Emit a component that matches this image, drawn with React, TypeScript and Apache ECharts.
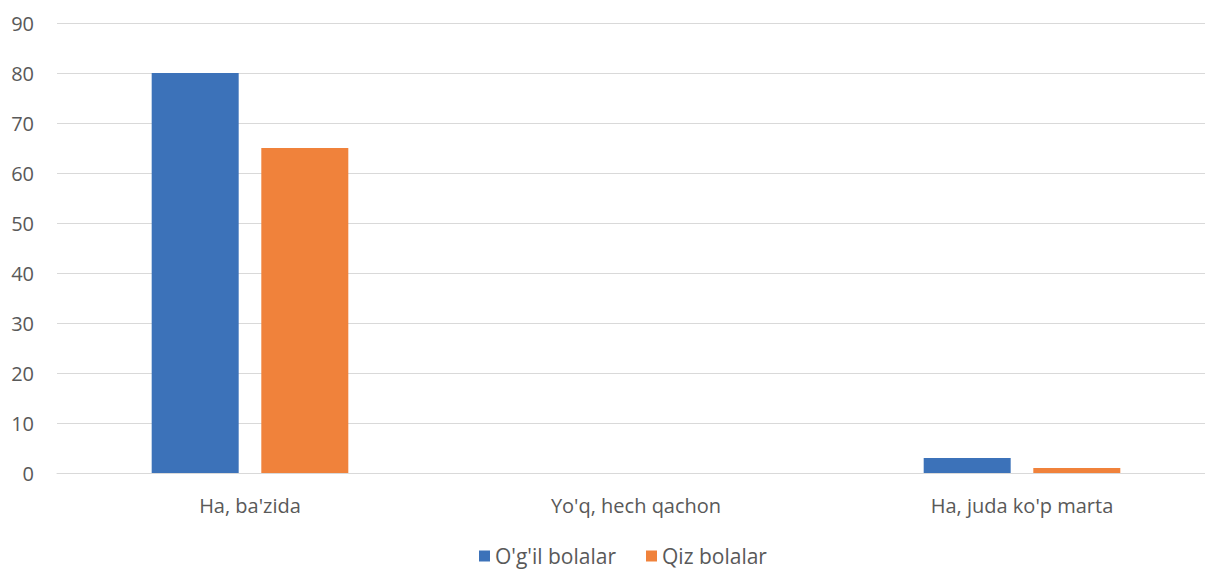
import React, { useEffect, useRef } from "react";
import * as echarts from "echarts";

const categories = ["Ha, ba'zida", "Yo'q, hech qachon", "Ha, juda ko'p marta"];
const seriesNames = ["O'g'il bolalar", "Qiz bolalar"];
const boysValues = [80, 0, 3];
const girlsValues = [65, 0, 1];
const yMin = 0;
const yMax = 90;
const yInterval = 10;

export default function App() {
  const ref = useRef<HTMLDivElement>(null);
  useEffect(() => {
    if (!ref.current) return;
    const chart = echarts.init(ref.current, null, { renderer: "svg" });
    const font = "Open Sans";
    chart.setOption({
      animation: false,
      backgroundColor: "#ffffff",
      textStyle: { fontFamily: font },
      grid: { left: 57, top: 23, width: 1158, height: 450, containLabel: false },
      legend: {
        top: 544,
        left: 479,
        padding: 0,
        itemWidth: 11,
        itemHeight: 11,
        itemGap: 30,
        itemTextGap: 7,
        icon: "rect",
        textStyle: { fontSize: 21, lineHeight: 24, color: "#595959", fontFamily: font },
        data: seriesNames,
      },
      xAxis: {
        type: "category",
        data: categories,
        axisLine: { lineStyle: { color: "#d9d9d9", width: 1 } },
        axisTick: { show: false },
        axisLabel: { fontSize: 20, color: "#595959", margin: 22, fontFamily: font },
      },
      yAxis: {
        type: "value",
        min: yMin,
        max: yMax,
        interval: yInterval,
        axisLine: { show: false },
        axisTick: { show: false },
        splitLine: { lineStyle: { color: "#d9d9d9", width: 1 } },
        axisLabel: { fontSize: 20, color: "#595959", margin: 23, fontFamily: font },
      },
      series: [
        {
          name: seriesNames[0],
          type: "bar",
          data: boysValues,
          barWidth: 87,
          barGap: "26%",
          itemStyle: { color: "#3c72b9" },
        },
        {
          name: seriesNames[1],
          type: "bar",
          data: girlsValues,
          barWidth: 87,
          itemStyle: { color: "#f0823b" },
        },
      ],
    });
    return () => chart.dispose();
  }, []);
  return (
    <div
      style={{
        position: "fixed",
        left: 0,
        top: 0,
        width: 1205,
        height: 569,
        overflow: "hidden",
        background: "#ffffff",
      }}
    >
      <div ref={ref} style={{ width: 1225, height: 569 }} />
    </div>
  );
}
